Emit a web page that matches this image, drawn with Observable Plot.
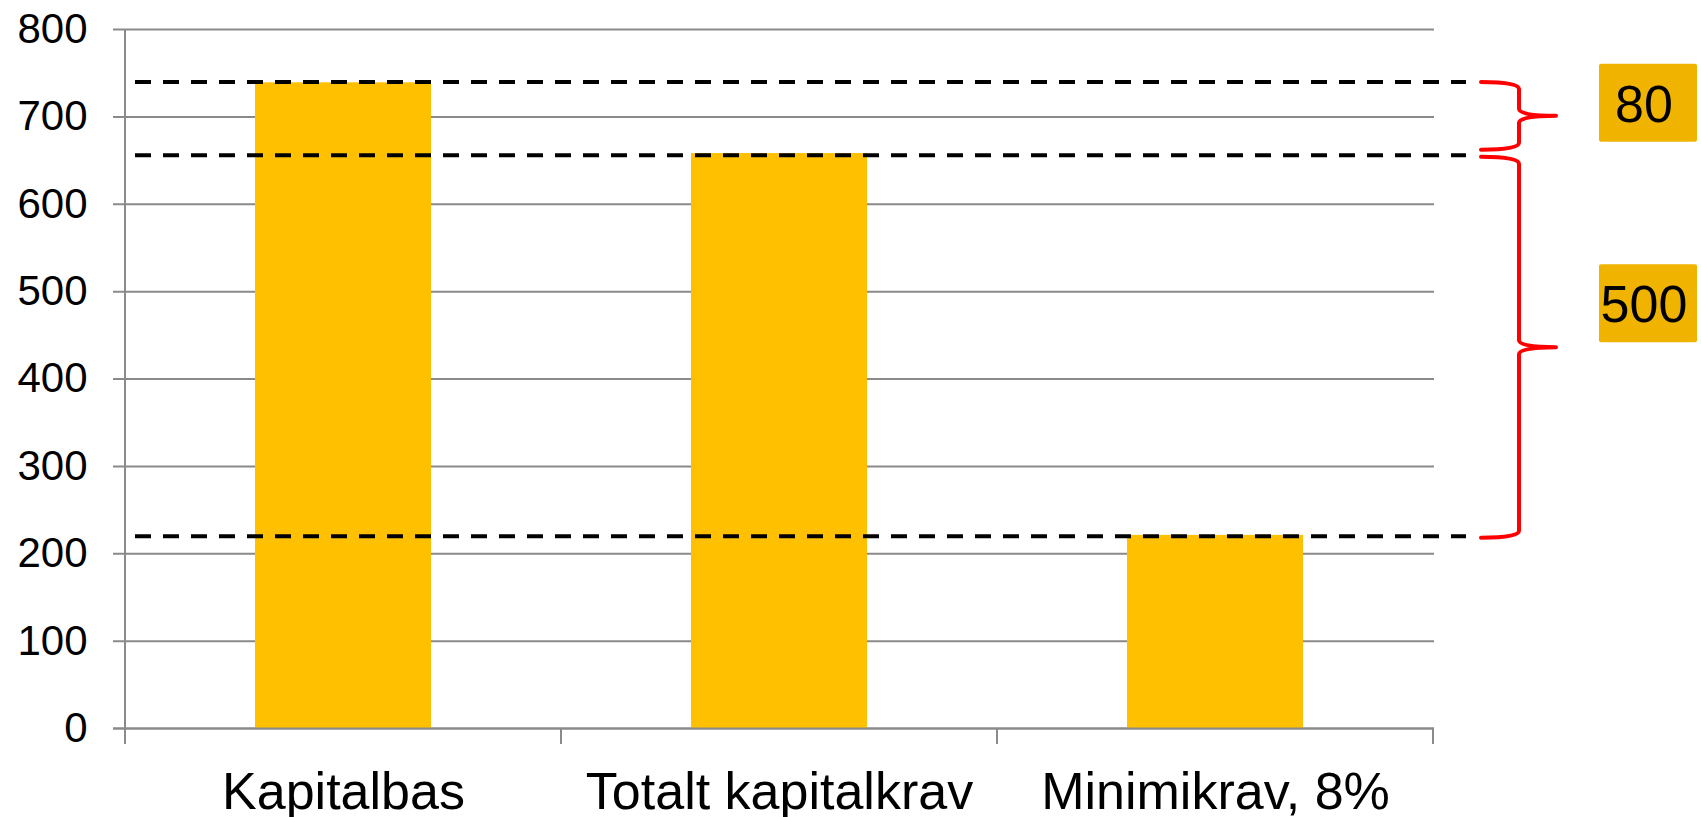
<!DOCTYPE html>
<html><head><meta charset="utf-8">
<script src="https://cdn.jsdelivr.net/npm/d3@7"></script>
<script src="https://cdn.jsdelivr.net/npm/@observablehq/plot@0.6"></script>
<style>html,body{margin:0;padding:0;background:#fff;} svg{display:block;}</style>
</head><body><div id="chart"></div>
<script>
// ---- data ----
const categories = ["Kapitalbas", "Totalt kapitalkrav", "Minimikrav, 8%"];
const values = [739, 658, 221];
const yTicks = [0, 100, 200, 300, 400, 500, 600, 700, 800];
const levelLines = [740, 656, 220];
const braceFrom = [740, 656];
const braceTo = [656, 220];
const braceLabels = ["80", "500"];

const data = categories.map((c, i) => ({category: c, value: values[i]}));

// ---- style ----
const W = 1701, H = 817;
const grey = "#8a8a8a";
const barColor = "#FFC000";
const boxColor = "#F0B400";
const font = "'Liberation Sans', Arial, Helvetica, sans-serif";

const plot = Plot.plot({
  width: W, height: H,
  marginLeft: 125, marginRight: 267, marginTop: 29, marginBottom: 89,
  style: {fontFamily: font, background: "#fff", overflow: "visible", color: "#000"},
  x: {domain: categories, paddingInner: 0.596, paddingOuter: 0.298, label: null},
  y: {domain: [0, 800], label: null},
  marks: [
    Plot.ruleY(yTicks, {stroke: grey, strokeWidth: 2, insetLeft: -12}),
    Plot.barY(data, {x: "category", y: "value", fill: barColor}),
    Plot.ruleY([0], {stroke: grey, strokeWidth: 2, insetLeft: -12}),
    Plot.ruleY(levelLines, {stroke: "#000", strokeWidth: 4, strokeDasharray: "16,12", insetLeft: 10, insetRight: -32}),
    Plot.axisY({ticks: yTicks, tickSize: 0, tickPadding: 38, fontSize: 42, fill: "#000", label: null}),
    Plot.axisX({tickSize: 0, tickPadding: 44, fontSize: 52, fill: "#000", label: null})
  ]
});
document.getElementById("chart").appendChild(plot);

// ---- axis line, category boundary ticks, braces and labels via the plot's scales ----
const xs = plot.scale("x"), ys = plot.scale("y");
const svg = d3.select(plot);
const step = xs.step ?? (xs.range[1] - xs.range[0]) / categories.length;
const bw = xs.bandwidth ?? step * 0.404;
const off = (step - bw) / 2;
const bounds = categories.map(c => xs.apply(c) - off)
  .concat([xs.apply(categories[categories.length - 1]) + bw + off]);
const y0 = ys.apply(0);
const yTop = ys.apply(yTicks[yTicks.length - 1]);
const g = svg.append("g");
g.append("line").attr("x1", bounds[0]).attr("x2", bounds[0]).attr("y1", yTop).attr("y2", y0 + 16)
  .attr("stroke", grey).attr("stroke-width", 2);
bounds.slice(1).forEach(b => {
  g.append("line").attr("x1", b).attr("x2", b).attr("y1", y0).attr("y2", y0 + 16)
    .attr("stroke", grey).attr("stroke-width", 2);
});

const xRight = bounds[bounds.length - 1];
const tail = xRight + 48, spine = xRight + 86, tip = xRight + 123, r = 7;
const gaps = [[0.5, -5], [2, 2]];
const labelShift = [-13, -44];
braceFrom.forEach((v, i) => {
  const y1 = ys.apply(v) + gaps[i][0], y2 = ys.apply(braceTo[i]) + gaps[i][1];
  const ym = (y1 + y2) / 2;
  const p = `M${tail},${y1} Q${spine},${y1} ${spine},${y1 + r} L${spine},${ym - r} Q${spine},${ym} ${tip},${ym} ` +
            `M${tip},${ym} Q${spine},${ym} ${spine},${ym + r} L${spine},${y2 - r} Q${spine},${y2} ${tail},${y2}`;
  g.append("path").attr("d", p).attr("fill", "none").attr("stroke", "#ff0000")
    .attr("stroke-width", 4).attr("stroke-linejoin", "round").attr("stroke-linecap", "round");
  const cy = ym + labelShift[i];
  g.append("rect").attr("x", xRight + 166).attr("y", cy - 39).attr("width", 98).attr("height", 78)
    .attr("rx", 2).attr("fill", boxColor);
  g.append("text").attr("x", xRight + 211).attr("y", cy).attr("dy", "0.36em")
    .attr("text-anchor", "middle").attr("font-size", 52).attr("font-family", font)
    .attr("fill", "#000").text(braceLabels[i]);
});
</script>
</body></html>
